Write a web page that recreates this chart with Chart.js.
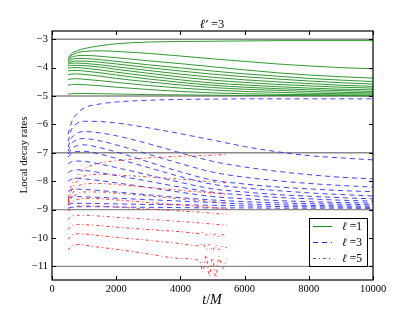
<!DOCTYPE html>
<html>
<head>
<meta charset="utf-8">
<script src="https://cdn.jsdelivr.net/npm/chart.js@4"></script>
<style>
  html, body { margin: 0; background: #fff; }
  #wrap { width: 415px; height: 312px; }
</style>
</head>
<body>
<div id="wrap"><canvas id="c" width="415" height="312"></canvas></div>
<script>
// time samples (t/M)
const tGrid = [500, 600, 800, 1000, 1500, 2000, 3000, 4000, 5000, 6000, 7000, 8000, 9000, 10000];
const tRed = [500, 600, 800, 1000, 1500, 2000, 3000, 4000, 4600, 4700, 4800, 4900, 5000, 5100, 5200, 5300, 5450];

// l = 1 (green, solid)
const ell1Curves = [
  [-3.68, -3.52, -3.40, -3.33, -3.23, -3.16, -3.10, -3.08, -3.07, -3.06, -3.05, -3.05, -3.05, -3.05],
  [-3.72, -3.58, -3.47, -3.43, -3.41, -3.43, -3.50, -3.59, -3.69, -3.78, -3.87, -3.94, -4.00, -4.04],
  [-3.76, -3.65, -3.58, -3.57, -3.60, -3.65, -3.76, -3.86, -3.97, -4.08, -4.18, -4.26, -4.32, -4.37],
  [-3.80, -3.72, -3.68, -3.68, -3.72, -3.78, -3.90, -4.01, -4.12, -4.22, -4.30, -4.38, -4.44, -4.49],
  [-3.84, -3.79, -3.77, -3.77, -3.81, -3.87, -4.00, -4.12, -4.23, -4.32, -4.40, -4.47, -4.53, -4.58],
  [-3.88, -3.85, -3.84, -3.85, -3.90, -3.97, -4.10, -4.23, -4.34, -4.43, -4.50, -4.56, -4.62, -4.66],
  [-3.94, -3.92, -3.92, -3.93, -3.98, -4.06, -4.20, -4.33, -4.44, -4.52, -4.59, -4.64, -4.69, -4.72],
  [-4.02, -4.00, -4.00, -4.02, -4.08, -4.16, -4.30, -4.43, -4.54, -4.61, -4.67, -4.72, -4.76, -4.78],
  [-4.12, -4.10, -4.10, -4.12, -4.18, -4.26, -4.40, -4.52, -4.62, -4.69, -4.74, -4.78, -4.81, -4.84],
  [-4.25, -4.23, -4.22, -4.24, -4.30, -4.38, -4.50, -4.61, -4.70, -4.76, -4.80, -4.84, -4.87, -4.89],
  [-4.42, -4.40, -4.39, -4.41, -4.46, -4.52, -4.63, -4.72, -4.79, -4.84, -4.87, -4.90, -4.92, -4.93],
  [-4.62, -4.60, -4.59, -4.60, -4.64, -4.69, -4.77, -4.84, -4.89, -4.92, -4.94, -4.95, -4.96, -4.97],
  [-4.93, -4.92, -4.91, -4.91, -4.92, -4.93, -4.95, -4.96, -4.97, -4.98, -4.98, -4.99, -4.99, -5.00]
];

// l = 3 (blue, dashed)
const ell3Curves = [
  [-6.35, -5.95, -5.60, -5.42, -5.28, -5.21, -5.15, -5.12, -5.11, -5.10, -5.10, -5.10, -5.10, -5.10],
  [-6.60, -6.20, -5.95, -5.89, -5.90, -5.95, -6.12, -6.33, -6.55, -6.78, -6.96, -7.10, -7.18, -7.25],
  [-6.80, -6.50, -6.30, -6.25, -6.30, -6.40, -6.68, -7.00, -7.30, -7.50, -7.65, -7.77, -7.86, -7.92],
  [-6.95, -6.70, -6.53, -6.50, -6.58, -6.72, -7.05, -7.38, -7.68, -7.86, -7.98, -8.08, -8.15, -8.21],
  [-7.05, -6.88, -6.74, -6.72, -6.82, -6.97, -7.32, -7.67, -7.96, -8.10, -8.20, -8.27, -8.33, -8.37],
  [-7.15, -7.03, -6.95, -6.95, -7.05, -7.20, -7.52, -7.84, -8.11, -8.24, -8.33, -8.41, -8.47, -8.52],
  [-7.40, -7.32, -7.29, -7.30, -7.40, -7.52, -7.78, -8.04, -8.27, -8.38, -8.47, -8.53, -8.58, -8.62],
  [-7.70, -7.63, -7.60, -7.62, -7.70, -7.80, -8.00, -8.21, -8.39, -8.49, -8.57, -8.62, -8.67, -8.70],
  [-8.00, -7.93, -7.90, -7.92, -7.98, -8.06, -8.22, -8.39, -8.54, -8.62, -8.68, -8.72, -8.75, -8.77],
  [-8.35, -8.30, -8.28, -8.29, -8.33, -8.38, -8.48, -8.58, -8.66, -8.72, -8.76, -8.79, -8.81, -8.83],
  [-8.60, -8.56, -8.54, -8.55, -8.57, -8.60, -8.65, -8.70, -8.75, -8.80, -8.83, -8.85, -8.87, -8.88],
  [-8.82, -8.79, -8.78, -8.78, -8.79, -8.80, -8.82, -8.83, -8.85, -8.87, -8.89, -8.90, -8.91, -8.92],
  [-8.95, -8.92, -8.90, -8.90, -8.90, -8.91, -8.92, -8.93, -8.94, -8.94, -8.95, -8.95, -8.95, -8.96]
];

// l = 5 (red, dash-dot)
const ell5Curves = [
  [-8.60, -8.15, -7.80, -7.58, -7.36, -7.28, -7.18, -7.12, -7.10, -7.10, -7.09, -7.09, -7.08, -7.08, -7.07, -7.07, -7.06],
  [-8.70, -8.35, -7.98, -7.82, -7.76, -7.78, -7.85, -7.93, -7.98, -7.99, -8.00, -8.01, -8.02, -8.03, -8.04, -8.05, -8.06],
  [-8.75, -8.50, -8.20, -8.10, -8.08, -8.12, -8.22, -8.32, -8.38, -8.39, -8.40, -8.41, -8.42, -8.43, -8.44, -8.45, -8.46],
  [-8.80, -8.62, -8.44, -8.38, -8.38, -8.42, -8.52, -8.62, -8.68, -8.69, -8.70, -8.71, -8.72, -8.73, -8.74, -8.75, -8.76],
  [-8.85, -8.75, -8.64, -8.61, -8.62, -8.66, -8.75, -8.84, -8.89, -8.90, -8.91, -8.92, -8.93, -8.94, -8.95, -8.96, -8.97],
  [-9.05, -8.95, -8.88, -8.87, -8.88, -8.91, -8.98, -9.05, -9.09, -9.10, -9.11, -9.12, -9.13, -9.14, -9.15, -9.15, -9.16],
  [-9.35, -9.25, -9.20, -9.20, -9.23, -9.27, -9.34, -9.42, -9.47, -9.48, -9.49, -9.50, -9.51, -9.52, -9.53, -9.54, -9.55],
  [-9.70, -9.58, -9.53, -9.53, -9.57, -9.62, -9.70, -9.78, -9.84, -9.80, -9.90, -9.83, -9.92, -9.86, -9.95, -9.88, -9.92],
  [-10.05, -9.92, -9.85, -9.86, -9.92, -9.98, -10.08, -10.20, -10.28, -10.18, -10.40, -10.22, -10.45, -10.25, -10.42, -10.30, -10.35],
  [-10.42, -10.30, -10.23, -10.25, -10.33, -10.40, -10.56, -10.72, -10.80, -11.20, -10.60, -11.35, -10.70, -11.40, -10.65, -11.10, -10.75]
];

const refLevels = [-3, -5, -7, -9, -11];
const xTicks = [0, 2000, 4000, 6000, 8000, 10000];
const yTicks = [-3, -4, -5, -6, -7, -8, -9, -10, -11];

const SERIF = '"Liberation Serif", "DejaVu Serif", serif';
const styles = {
  green: { color: '#1a8c1a', dash: [] },
  blue:  { color: '#2a2aff', dash: [5, 4] },
  red:   { color: '#ff2020', dash: [3, 3, 1, 3] }
};

const toPts = (ts, vs) => vs.map((v, i) => ({ x: ts[i], y: v }));

const datasets = [];
refLevels.forEach(l => datasets.push({
  data: [{ x: 0, y: l }, { x: 10000, y: l }],
  borderColor: '#8a8a8a', borderWidth: 1.4, order: 10
}));
ell1Curves.forEach(c => datasets.push({
  data: toPts(tGrid, c), borderColor: styles.green.color, borderWidth: 0.9, order: 3
}));
ell3Curves.forEach(c => datasets.push({
  data: toPts(tGrid, c), borderColor: styles.blue.color, borderDash: styles.blue.dash, borderWidth: 0.9, order: 2
}));
ell5Curves.forEach(c => datasets.push({
  data: toPts(tRed, c), borderColor: styles.red.color, borderDash: styles.red.dash, borderWidth: 0.9, order: 1
}));

// mixed italic / upright text, e.g. ℓ in italic and "=1" upright
function drawMixed(ctx, parts, x, y, size, align) {
  let total = 0;
  parts.forEach(p => {
    ctx.font = (p.it ? 'italic ' : '') + size + 'px ' + SERIF;
    p.w = ctx.measureText(p.s).width;
    total += p.w;
  });
  let cx = align === 'center' ? x - total / 2 : x;
  parts.forEach(p => {
    ctx.font = (p.it ? 'italic ' : '') + size + 'px ' + SERIF;
    ctx.fillText(p.s, cx, y);
    cx += p.w;
  });
}

const decorPlugin = {
  id: 'decor',
  afterDraw(chart) {
    const { ctx, chartArea: a, scales: { x, y } } = chart;
    ctx.save();
    ctx.strokeStyle = '#000';
    ctx.lineWidth = 1;

    // inward ticks on all four sides
    ctx.beginPath();
    xTicks.forEach(v => {
      const px = Math.round(x.getPixelForValue(v)) + 0.5;
      ctx.moveTo(px, a.bottom); ctx.lineTo(px, a.bottom - 4);
      ctx.moveTo(px, a.top); ctx.lineTo(px, a.top + 4);
    });
    yTicks.forEach(v => {
      const py = Math.round(y.getPixelForValue(v)) + 0.5;
      ctx.moveTo(a.left, py); ctx.lineTo(a.left + 4, py);
      ctx.moveTo(a.right, py); ctx.lineTo(a.right - 4, py);
    });
    ctx.stroke();

    // frame
    ctx.lineWidth = 1.2;
    ctx.strokeRect(a.left, a.top, a.right - a.left, a.bottom - a.top);

    // legend box
    const lx = 309, ly = 218, lw = 58, lh = 48;
    ctx.fillStyle = '#fff';
    ctx.fillRect(lx, ly, lw, lh);
    ctx.lineWidth = 1;
    ctx.strokeRect(lx + 0.5, ly + 0.5, lw, lh);
    const rows = [
      { st: styles.green, label: '=1' },
      { st: styles.blue, label: '=3' },
      { st: styles.red, label: '=5' }
    ];
    rows.forEach((r, i) => {
      const ry = 226 + i * 16;
      ctx.strokeStyle = r.st.color;
      ctx.setLineDash(r.st.dash);
      ctx.beginPath();
      ctx.moveTo(313, ry + 0.5); ctx.lineTo(332, ry + 0.5);
      ctx.stroke();
      ctx.setLineDash([]);
      ctx.fillStyle = '#000';
      ctx.textBaseline = 'middle';
      ctx.textAlign = 'left';
      drawMixed(ctx, [{ s: 'ℓ', it: true }, { s: ' ' + r.label, it: false }], 342, ry + 1, 11.5, 'left');
    });

    // title
    ctx.fillStyle = '#000';
    ctx.textBaseline = 'alphabetic';
    ctx.textAlign = 'left';
    drawMixed(ctx, [{ s: 'ℓ′', it: true }, { s: ' =3', it: false }], 212, 28, 12.5, 'center');

    // x label
    drawMixed(ctx, [{ s: 't', it: true }, { s: '/', it: false }, { s: 'M', it: true }], 212, 304, 14, 'center');

    // y label
    ctx.translate(24, 155);
    ctx.rotate(-Math.PI / 2);
    ctx.textAlign = 'center';
    ctx.textBaseline = 'middle';
    ctx.font = '11px ' + SERIF;
    ctx.fillText('Local decay rates', 0, 0);
    ctx.restore();
  }
};

new Chart(document.getElementById('c'), {
  type: 'line',
  data: { datasets },
  options: {
    responsive: false,
    animation: false,
    layout: { padding: { top: 31, right: 42, left: 0, bottom: 0 } },
    elements: {
      point: { radius: 0 },
      line: { cubicInterpolationMode: 'monotone', fill: false }
    },
    plugins: { legend: { display: false }, tooltip: { enabled: false }, title: { display: false } },
    scales: {
      x: {
        type: 'linear', min: 0, max: 10000,
        afterFit: s => { s.height = 32; },
        afterBuildTicks: s => { s.ticks = xTicks.map(v => ({ value: v })); },
        grid: { display: false, drawTicks: false },
        border: { display: false },
        ticks: {
          color: '#000', padding: 3, maxRotation: 0, font: { family: SERIF, size: 10.5 },
          callback: v => String(v)
        }
      },
      y: {
        type: 'linear', min: -11.48, max: -2.71,
        afterFit: s => { s.width = 52; },
        afterBuildTicks: s => { s.ticks = yTicks.map(v => ({ value: v })); },
        grid: { display: false, drawTicks: false },
        border: { display: false },
        ticks: {
          color: '#000', padding: 4, font: { family: SERIF, size: 10.5 },
          callback: v => (v < 0 ? '\u2212' + Math.abs(v) : String(v))
        }
      }
    }
  },
  plugins: [decorPlugin]
});
</script>
</body>
</html>
